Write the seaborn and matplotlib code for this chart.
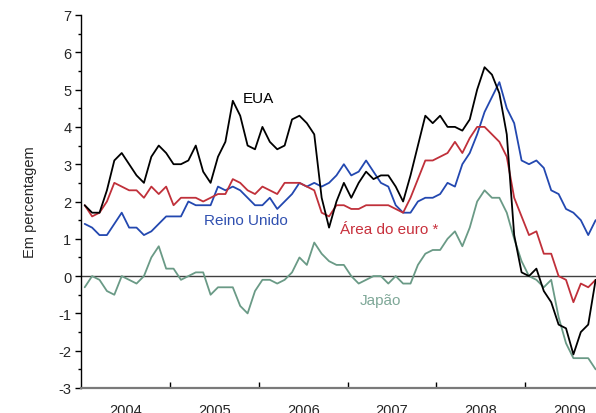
"""Inflação homóloga: EUA, Área do euro, Reino Unido e Japão (2004-2009)."""

import matplotlib
matplotlib.use("Agg")
import matplotlib.pyplot as plt
import numpy as np
import pandas as pd
import seaborn as sns
from matplotlib.ticker import FixedLocator, MultipleLocator

# monthly values, Jan 2004 .. Oct 2009
eua = [
    1.9, 1.7, 1.7, 2.3, 3.1, 3.3, 3.0, 2.7, 2.5, 3.2, 3.5, 3.3,
    3.0, 3.0, 3.1, 3.5, 2.8, 2.5, 3.2, 3.6, 4.7, 4.3, 3.5, 3.4,
    4.0, 3.6, 3.4, 3.5, 4.2, 4.3, 4.1, 3.8, 2.1, 1.3, 2.0, 2.5,
    2.1, 2.5, 2.8, 2.6, 2.7, 2.7, 2.4, 2.0, 2.7, 3.5, 4.3, 4.1,
    4.3, 4.0, 4.0, 3.9, 4.2, 5.0, 5.6, 5.4, 4.9, 3.8, 1.1, 0.1,
    0.0, 0.2, -0.4, -0.7, -1.3, -1.4, -2.1, -1.5, -1.3, -0.1,
]
area_euro = [
    1.9, 1.6, 1.7, 2.0, 2.5, 2.4, 2.3, 2.3, 2.1, 2.4, 2.2, 2.4,
    1.9, 2.1, 2.1, 2.1, 2.0, 2.1, 2.2, 2.2, 2.6, 2.5, 2.3, 2.2,
    2.4, 2.3, 2.2, 2.5, 2.5, 2.5, 2.4, 2.3, 1.7, 1.6, 1.9, 1.9,
    1.8, 1.8, 1.9, 1.9, 1.9, 1.9, 1.8, 1.7, 2.1, 2.6, 3.1, 3.1,
    3.2, 3.3, 3.6, 3.3, 3.7, 4.0, 4.0, 3.8, 3.6, 3.2, 2.1, 1.6,
    1.1, 1.2, 0.6, 0.6, 0.0, -0.1, -0.7, -0.2, -0.3, -0.1,
]
reino_unido = [
    1.4, 1.3, 1.1, 1.1, 1.4, 1.7, 1.3, 1.3, 1.1, 1.2, 1.4, 1.6,
    1.6, 1.6, 2.0, 1.9, 1.9, 1.9, 2.4, 2.3, 2.4, 2.3, 2.1, 1.9,
    1.9, 2.1, 1.8, 2.0, 2.2, 2.5, 2.4, 2.5, 2.4, 2.5, 2.7, 3.0,
    2.7, 2.8, 3.1, 2.8, 2.5, 2.4, 1.9, 1.7, 1.7, 2.0, 2.1, 2.1,
    2.2, 2.5, 2.4, 3.0, 3.3, 3.8, 4.4, 4.8, 5.2, 4.5, 4.1, 3.1,
    3.0, 3.1, 2.9, 2.3, 2.2, 1.8, 1.7, 1.5, 1.1, 1.5,
]
japao = [
    -0.3, 0.0, -0.1, -0.4, -0.5, 0.0, -0.1, -0.2, 0.0, 0.5, 0.8, 0.2,
    0.2, -0.1, 0.0, 0.1, 0.1, -0.5, -0.3, -0.3, -0.3, -0.8, -1.0, -0.4,
    -0.1, -0.1, -0.2, -0.1, 0.1, 0.5, 0.3, 0.9, 0.6, 0.4, 0.3, 0.3,
    0.0, -0.2, -0.1, 0.0, 0.0, -0.2, 0.0, -0.2, -0.2, 0.3, 0.6, 0.7,
    0.7, 1.0, 1.2, 0.8, 1.3, 2.0, 2.3, 2.1, 2.1, 1.7, 1.0, 0.4,
    0.0, -0.1, -0.3, -0.1, -1.1, -1.8, -2.2, -2.2, -2.2, -2.5,
]
years = ["2004", "2005", "2006", "2007", "2008", "2009"]

series = {
    "EUA": eua,
    "Área do euro *": area_euro,
    "Reino Unido": reino_unido,
    "Japão": japao,
}
colors = {
    "EUA": "#000000",
    "Área do euro *": "#c0303a",
    "Reino Unido": "#2348b0",
    "Japão": "#6a9a86",
}
label_colors = {
    "EUA": "#000000",
    "Área do euro *": "#c8303c",
    "Reino Unido": "#3050b0",
    "Japão": "#7fa898",
}
# label anchor (month index, value)
label_pos = {
    "EUA": (21.4, 4.78),
    "Reino Unido": (16.1, 1.5),
    "Área do euro *": (34.5, 1.26),
    "Japão": (37.2, -0.63),
}

df = pd.DataFrame(series)
df["mes"] = np.arange(len(df))
long = df.melt(id_vars="mes", var_name="serie", value_name="valor")

sns.set_theme(style="white")
plt.rcParams["font.family"] = ["Liberation Sans", "DejaVu Sans"]
plt.rcParams["axes.unicode_minus"] = False

fig = plt.figure(figsize=(5.96, 4.14), dpi=100)
ax = fig.add_axes([81 / 596, 25 / 414, 515 / 596, 373 / 414])

ax.axhline(0, color="#404040", lw=1.0, zorder=1)
sns.lineplot(
    data=long, x="mes", y="valor", hue="serie", palette=colors,
    hue_order=["Japão", "Reino Unido", "Área do euro *", "EUA"],
    linewidth=1.3, legend=False, ax=ax, zorder=3,
)

for name, (mx, my) in label_pos.items():
    ax.text(mx, my, name, color=label_colors[name], fontsize=11,
            ha="left", va="center")

n = len(eua)
ax.set_xlim(-0.5, n - 1 + 0.05)
ax.set_ylim(-3, 7)

# year boundaries as ticks, year names centred between them
ax.xaxis.set_major_locator(FixedLocator([11.5 + 12 * i for i in range(len(years))]))
ax.xaxis.set_minor_locator(FixedLocator([5.5 + 12 * i for i in range(len(years))]))
ax.set_xticklabels([], minor=False)
ax.set_xticklabels(years, minor=True)
ax.tick_params(axis="x", which="major", direction="in", length=4, width=1,
               color="black", bottom=True)
ax.tick_params(axis="x", which="minor", length=0, pad=10.5, labelsize=10.5)

ax.yaxis.set_major_locator(MultipleLocator(1))
ax.yaxis.set_minor_locator(MultipleLocator(0.5))
ax.tick_params(axis="y", which="major", direction="out", length=4, width=1,
               color="black", left=True, labelsize=10.5, pad=3)
ax.tick_params(axis="y", which="minor", direction="out", length=2.5, width=1,
               color="black", left=True)

ax.set_xlabel("")
ax.set_ylabel("Em percentagem", fontsize=10.5)
ax.yaxis.set_label_coords((37 - 81) / 515, 0.5)

sns.despine(ax=ax, top=True, right=True)
ax.spines["left"].set_color("black")
ax.spines["left"].set_linewidth(1.0)
ax.spines["bottom"].set_color("#7a7a7a")
ax.spines["bottom"].set_linewidth(1.6)
ax.grid(False)

fig.savefig("out.png", dpi=100)
